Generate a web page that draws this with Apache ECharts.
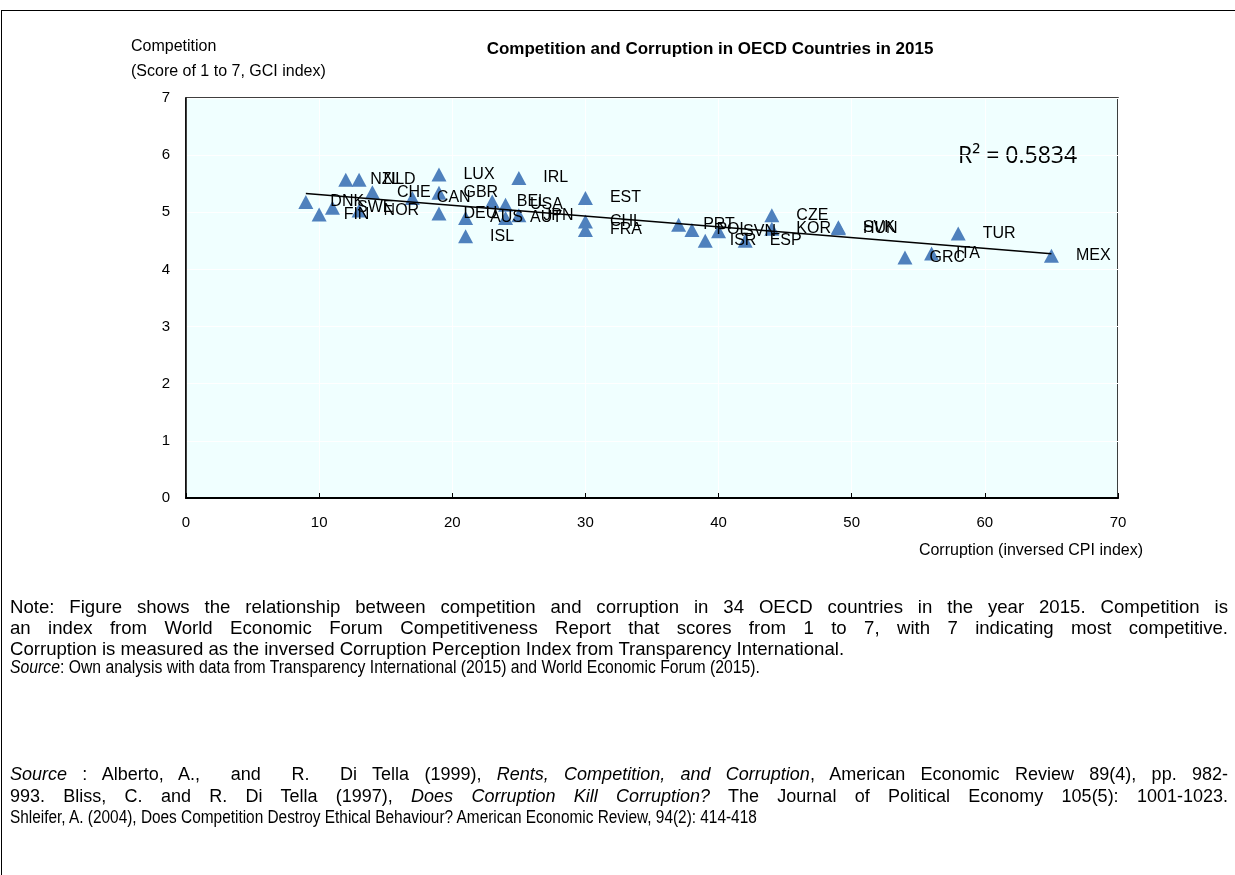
<!DOCTYPE html>
<html>
<head>
<meta charset="utf-8">
<script src="https://cdn.jsdelivr.net/npm/echarts@6/dist/echarts.min.js"></script>
<style>
html,body{margin:0;padding:0;background:#fff;}
#wrap{position:relative;width:1235px;height:875px;overflow:hidden;font-family:"Liberation Sans",Arial,sans-serif;}
#chart{position:absolute;left:0;top:0;width:1235px;height:875px;}
#frame{position:absolute;left:1px;top:10px;width:1300px;height:900px;border-left:1.5px solid #000;border-top:1.5px solid #000;pointer-events:none;}
.txt{position:absolute;left:10px;width:1218px;font-size:18px;color:#000;}
.txt div{white-space:nowrap;}
.txt div.j{text-align:justify;text-align-last:justify;white-space:normal;}
.txt div.c{transform-origin:0 50%;transform:scaleX(0.875);}
</style>
</head>
<body>
<div id="wrap">
<div id="chart"></div>
<div id="frame"></div>
<div class="txt" style="top:596px;line-height:21px;font-size:18.6px;">
<div class="j">Note: Figure shows the relationship between competition and corruption in 34 OECD countries in the year 2015. Competition is</div>
<div class="j">an index from World Economic Forum Competitiveness Report that scores from 1 to 7, with 7 indicating most competitive.</div>
<div>Corruption is measured as the inversed Corruption Perception Index from Transparency International.</div>
</div>
<div class="txt" style="top:657px;line-height:21px;"><div class="c"><i>Source</i>: Own analysis with data from Transparency International (2015) and World Economic Forum (2015).</div></div>
<div class="txt" style="top:764px;line-height:21.5px;">
<div class="j"><i>Source</i> : Alberto, A.,&nbsp; and&nbsp; R.&nbsp; Di Tella (1999), <i>Rents, Competition, and Corruption</i>, American Economic Review 89(4), pp. 982-</div>
<div class="j">993. Bliss, C. and R. Di Tella (1997), <i>Does Corruption Kill Corruption?</i> The Journal of Political Economy 105(5): 1001-1023.</div>
<div class="c" style="transform:scaleX(0.855);">Shleifer, A. (2004), Does Competition Destroy Ethical Behaviour? American Economic Review, 94(2): 414-418</div>
</div>
</div>
<script>
var countries = ["DNK","FIN","SWE","NZL","NLD","NOR","CHE","CAN","LUX","GBR","DEU","AUS","ISL","BEL","USA","IRL","AUT","JPN","EST","CHL","FRA","PRT","POL","ISR","SVN","ESP","CZE","KOR","SVK","HUN","GRC","ITA","TUR","MEX"];
var corruption = [9,10,11,12,13,13,14,17,19,19,19,21,21,23,24,25,24,25,30,30,30,37,38,39,40,42,44,44,49,49,54,56,58,65];
var competition = [5.18,4.96,5.08,5.57,5.57,5.03,5.35,5.25,5.66,5.34,4.98,4.90,4.58,5.19,5.13,5.60,4.90,4.95,5.25,4.84,4.69,4.78,4.69,4.50,4.67,4.50,4.95,4.71,4.74,4.72,4.21,4.28,4.63,4.24];
var xTicks = [0,10,20,30,40,50,60,70];
var yTicks = [0,1,2,3,4,5,6,7];
var rSquaredText = "R\u00B2 = 0.5834";

// least-squares trend line from the data
var n = corruption.length, sx=0, sy=0, sxx=0, sxy=0;
for (var i=0;i<n;i++){sx+=corruption[i];sy+=competition[i];sxx+=corruption[i]*corruption[i];sxy+=corruption[i]*competition[i];}
var slope = (n*sxy - sx*sy)/(n*sxx - sx*sx);
var intercept = (sy - slope*sx)/n;
var xmin = Math.min.apply(null, corruption), xmax = Math.max.apply(null, corruption);
var trend = [[xmin, intercept+slope*xmin],[xmax, intercept+slope*xmax]];

var pts = countries.map(function(c,i){return {name:c, value:[corruption[i], competition[i]]};});

var chart = echarts.init(document.getElementById('chart'), null, {renderer:'canvas'});
var font = '"Liberation Sans", Arial, sans-serif';
chart.setOption({
  animation:false,
  textStyle:{fontFamily:font},
  title:{text:'Competition and Corruption in OECD Countries in 2015', left:705, top:36, textAlign:'center',
    textStyle:{fontSize:17, fontWeight:'bold', color:'#000', fontFamily:font}},
  grid:{left:186, right:117, top:98, bottom:377, show:true, backgroundColor:'#F0FFFF', borderColor:'#000', borderWidth:1.5},
  xAxis:{type:'value', min:xTicks[0], max:xTicks[xTicks.length-1], interval:10,
    axisLine:{show:true, lineStyle:{color:'#000', width:2}},
    axisTick:{show:true, inside:true, length:5, lineStyle:{color:'#000'}},
    axisLabel:{color:'#000', fontSize:15, margin:17, fontFamily:font},
    splitLine:{show:true, lineStyle:{color:'#fff', width:1}}},
  yAxis:{type:'value', min:yTicks[0], max:yTicks[yTicks.length-1], interval:1,
    axisLine:{show:true, lineStyle:{color:'#000', width:1.5}},
    axisTick:{show:false},
    axisLabel:{color:'#000', fontSize:15, margin:16, fontFamily:font},
    splitLine:{show:true, lineStyle:{color:'#fff', width:1}}},
  graphic:[
    {type:'text', left:131, top:34, style:{text:'Competition\n(Score of 1 to 7, GCI index)', fill:'#000', font:'16px '+font, lineHeight:25}},
    {type:'text', right:1235-1143, top:543, style:{text:'Corruption (inversed CPI index)', fill:'#000', font:'16px '+font}},
    {type:'text', left:958, top:145, style:{text:rSquaredText, fill:'#000', font:'23px "Open Sans", "Liberation Sans", sans-serif'}}
  ],
  series:[
    {type:'scatter', data:pts, symbol:'triangle', symbolSize:[15,14],
     itemStyle:{color:'#4F81BD', opacity:1},
     label:{show:true, position:'right', distance:17, formatter:'{b}', color:'#000', fontSize:16, fontFamily:font},
     z:3},
    {type:'line', data:trend, symbol:'none', lineStyle:{color:'#000', width:1.5}, z:4, silent:true}
  ]
});
</script>
</body>
</html>
